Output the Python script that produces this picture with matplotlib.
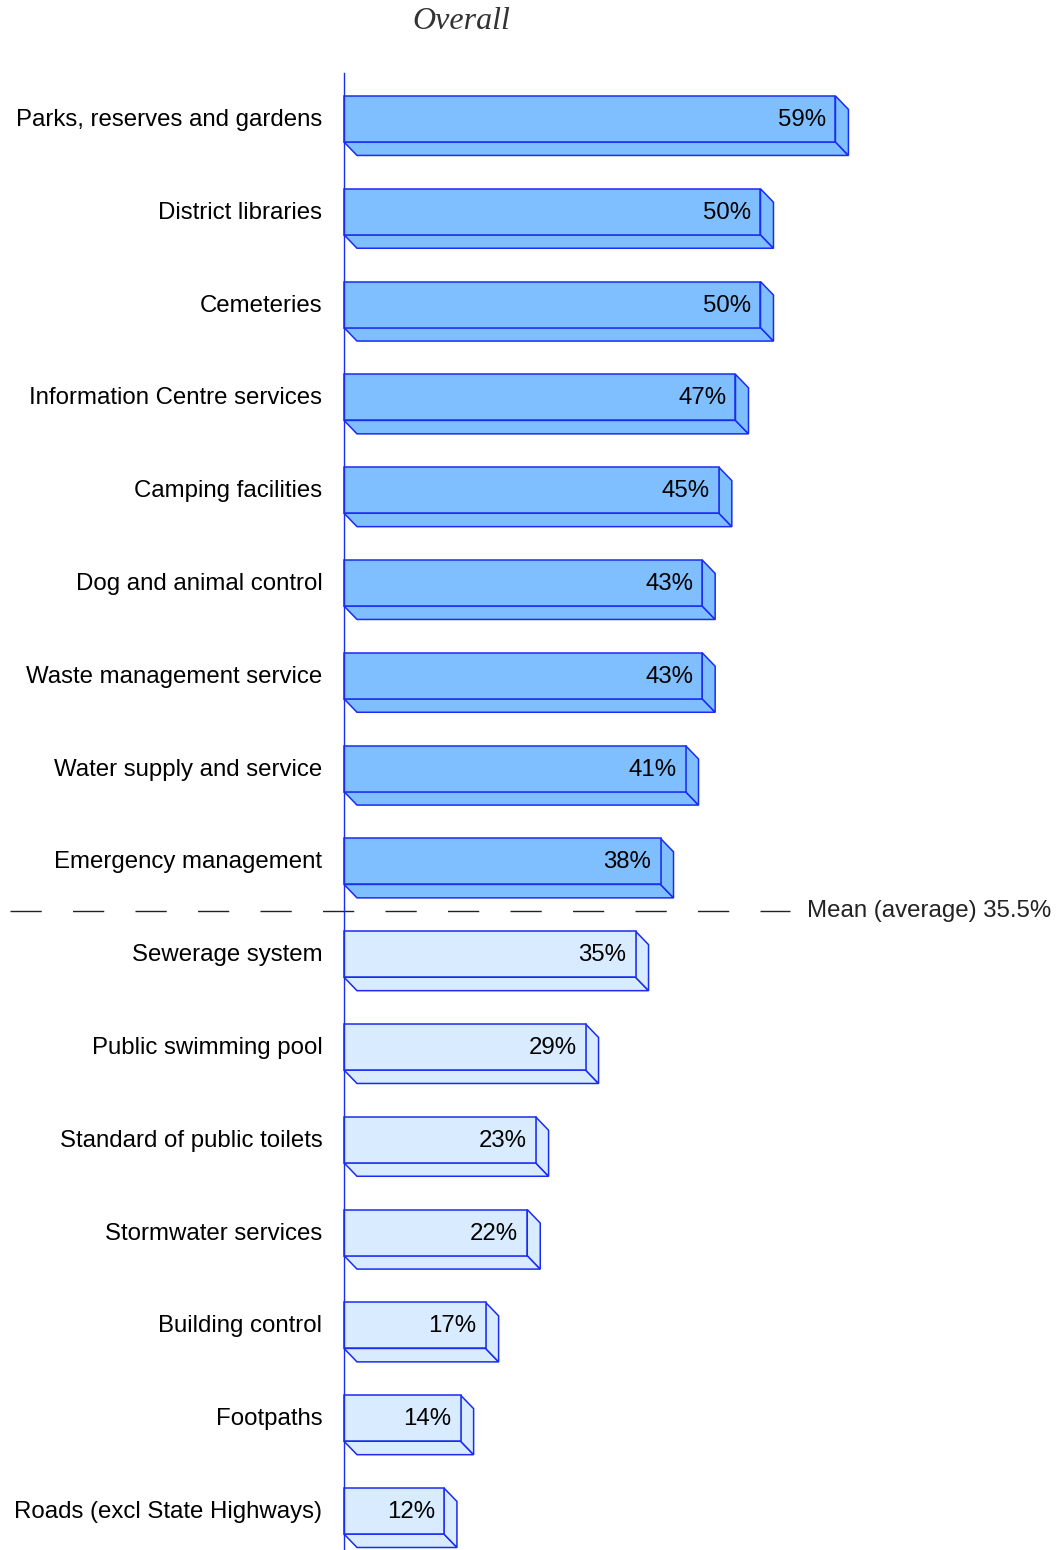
import numpy as np
import matplotlib
matplotlib.use('Agg')
import matplotlib.pyplot as plt
from matplotlib.patches import Polygon

# satisfaction by service, sorted high to low
servicios = ['Parks, reserves and gardens', 'District libraries', 'Cemeteries',
             'Information Centre services', 'Camping facilities',
             'Dog and animal control', 'Waste management service',
             'Water supply and service', 'Emergency management',
             'Sewerage system', 'Public swimming pool',
             'Standard of public toilets', 'Stormwater services',
             'Building control', 'Footpaths', 'Roads (excl State Highways)']
valores = [59, 50, 50, 47, 45, 43, 43, 41, 38, 35, 29, 23, 22, 17, 14, 12]
media = 35.5

#-------estilo--------------------
c_arriba = '#80bfff'
c_abajo = '#d9ecff'
c_borde = '#1a2cf0'
fuente = 'Liberation Sans'
tam = 17.3

fig = plt.figure(figsize=(10.62, 15.5), dpi=100)
ax = fig.add_axes([0, 0, 1, 1])
ax.set_xlim(-41.3, 86.2)
ax.set_ylim(15.42, -1.282)
ax.axis('off')

alto = 0.496          # alto de la cara frontal (en ranuras)
dx, dy = 1.56, 0.145  # profundidad del efecto 3D

y = np.arange(len(valores))
for i, v in enumerate(valores):
    color = c_arriba if v > media else c_abajo
    yt = y[i] - alto / 2
    yb = y[i] + alto / 2
    # cara inferior y cara lateral
    abajo = Polygon([(0, yb), (v, yb), (v + dx, yb + dy), (dx, yb + dy)],
                    closed=True, fc=color, ec=c_borde, lw=1.1, zorder=2)
    lado = Polygon([(v, yt), (v + dx, yt + dy), (v + dx, yb + dy), (v, yb)],
                   closed=True, fc=color, ec=c_borde, lw=1.1, zorder=2)
    ax.add_patch(abajo)
    ax.add_patch(lado)

ax.barh(y, valores, height=alto, left=0,
        color=[c_arriba if v > media else c_abajo for v in valores],
        edgecolor=c_borde, linewidth=1.1, zorder=3)

for i, v in enumerate(valores):
    ax.text(v - 1.1, y[i] + 0.01, f'{v}%', ha='right', va='center',
            fontsize=tam, family=fuente, color='black', zorder=4)
    ax.text(-2.6, y[i] + 0.01, servicios[i], ha='right', va='center',
            fontsize=tam, family=fuente, color='black')

# eje vertical
ax.plot([0, 0], [-0.496, 15.42], color=c_borde, lw=1.0, zorder=5)

# linea de la media
n_sobre = sum(1 for v in valores if v > media)
ym = n_sobre - 0.467
ax.plot([-40.1, 53.6], [ym, ym], color='#222222', lw=1.0,
        dashes=(22.5, 22.5), zorder=1)
ax.text(55.6, ym, f'Mean (average) {media}%', ha='left', va='center',
        fontsize=tam, family=fuente, color='#222222')

fig.text(0.434, 0.986, 'Overall', ha='center', va='center', fontsize=23,
         family='Liberation Serif', style='italic', color='#333333')

plt.savefig('out.png', dpi=100)
